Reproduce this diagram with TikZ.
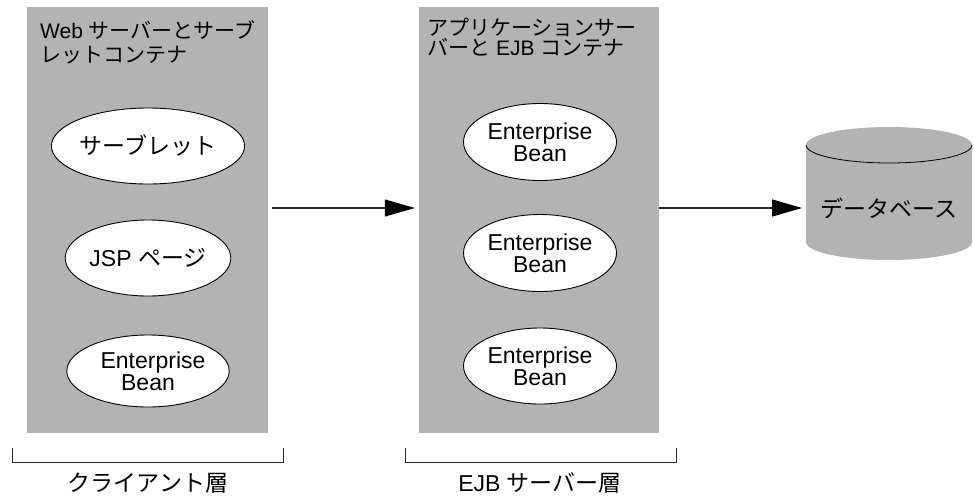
\documentclass[tikz,border=0pt]{standalone}
\usepackage{fontspec}
\setmainfont{Liberation Sans}
\newfontfamily\jp{Noto Sans CJK JP}
\usetikzlibrary{shapes.geometric,arrows.meta}
\definecolor{panelgray}{HTML}{B3B3B3}
\definecolor{inkgray}{HTML}{2A2A2A}
\begin{document}
\begin{tikzpicture}[x=1pt,y=-1pt,
  font=\fontsize{23}{22}\selectfont,
  panel/.style={fill=panelgray, draw=none, inner sep=0pt},
  bean/.style={ellipse, draw=black, line width=0.9pt, fill=white, inner sep=0pt, align=center},
  title/.style={inner sep=0pt, anchor=base west, align=left},
  arr/.style={draw=inkgray, line width=1.2pt, -{Triangle[length=30pt,width=17pt,color=black]}},
  bracket/.style={draw=inkgray, line width=0.9pt}]
\useasboundingbox (0,0) rectangle (974,496);

% container panels
\node[panel, minimum width=241pt, minimum height=426pt] (web) at (147.5,220) {};
\node[panel, minimum width=240pt, minimum height=426pt] (ejb) at (539,220) {};

% panel titles (two lines each, base anchor sits on the last line)
\node[title, font=\fontsize{21}{24}\selectfont] (webtitle) at (40,62)
  {Web {\jp サーバーとサーブ}\\{\jp レットコンテナ}};
\node[title, font=\fontsize{21}{17}\selectfont] (ejbtitle) at (427,55)
  {{\jp アプリケーションサー}\\{\jp バーと} EJB {\jp コンテナ}};

% components of the web container
\node[bean, minimum width=158pt, minimum height=76pt] (servlet) at (148,146) {\jp サーブレット};
\node[bean, minimum width=158pt, minimum height=76pt] (jsp) at (148,258) {JSP {\jp ページ}};
\node[bean, minimum width=160pt, minimum height=72pt] (webbean) at (148,371) {\hspace*{10pt}Enterprise\\Bean};

% components of the EJB container
\node[bean, minimum width=153pt, minimum height=77pt] (bean1) at (540,142) {Enterprise\\Bean};
\node[bean, minimum width=153pt, minimum height=77pt] (bean2) at (540,253) {Enterprise\\Bean};
\node[bean, minimum width=153pt, minimum height=76pt] (bean3) at (540,366) {Enterprise\\Bean};

% database cylinder
\fill[panelgray] (806,145) -- (806,242)
  arc[start angle=180, end angle=360, x radius=83pt, y radius=18pt]
  -- (972,145)
  arc[start angle=0, end angle=180, x radius=83pt, y radius=18pt] -- cycle;
\draw[black, line width=0.8pt] (806,145)
  arc[start angle=180, end angle=360, x radius=83pt, y radius=18pt];
\node[inner sep=0pt] (db) at (889,208) {\jp データベース};
\coordinate (dbleft) at (806,208);

% connectors
\draw[arr, shorten <=4pt, shorten >=4pt] (web.east |- db) -- (ejb.west |- db);
\draw[arr, shorten >=4pt] (ejb.east |- db) -- (dbleft);

% tier brackets
\draw[bracket] (12,448) -- (12,462) -- (283,462) -- (283,448);
\draw[bracket] (405,448) -- (405,462) -- (676,462) -- (676,448);
\node[inner sep=0pt] (clienttier) at (148,483) {\jp クライアント層};
\node[inner sep=0pt] (ejbtier) at (540,483) {EJB {\jp サーバー層}};
\end{tikzpicture}
\end{document}
